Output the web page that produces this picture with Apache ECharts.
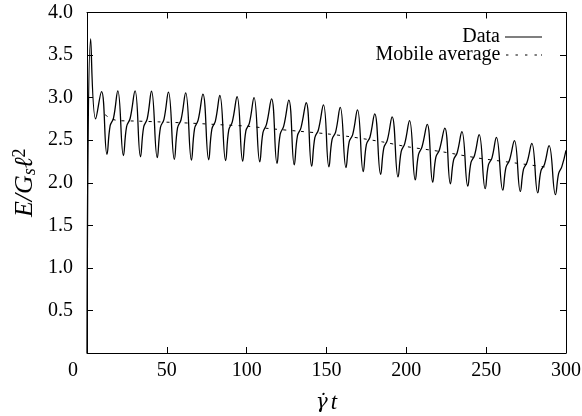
<!DOCTYPE html>
<html><head><meta charset="utf-8">
<script src="https://cdn.jsdelivr.net/npm/echarts@6/dist/echarts.min.js"></script>
<style>html,body{margin:0;padding:0;background:#fff}#c{width:582px;height:416px}</style>
</head><body><div id="c"></div>
<script>
// ---- data ----
const startPoint = [0, 0];
const endPoint = [300, 2.38];
const peakX = [2.3, 9.1, 19.3, 30.1, 40.4, 51.0, 61.8, 72.6, 83.2, 94.0, 104.6, 115.6, 126.4, 137.3, 148.1, 158.6, 169.4, 180.2, 191.1, 202.0, 213.1, 224.1, 234.8, 245.6, 256.4, 267.7, 278.6, 289.4];
const peakY = [3.69, 3.07, 3.08, 3.08, 3.075, 3.065, 3.055, 3.04, 3.025, 3.01, 3.0, 2.985, 2.97, 2.94, 2.915, 2.885, 2.855, 2.81, 2.775, 2.73, 2.685, 2.642, 2.6, 2.565, 2.532, 2.495, 2.462, 2.435];
const minX = [5.4, 12.5, 22.8, 33.5, 44.0, 54.7, 65.4, 76.2, 86.8, 97.5, 108.2, 119.0, 129.8, 140.7, 151.5, 162.2, 173.0, 183.9, 194.8, 205.6, 216.5, 227.6, 238.5, 249.4, 260.4, 271.4, 282.3, 293.4];
const minY = [2.75, 2.335, 2.32, 2.305, 2.295, 2.275, 2.267, 2.27, 2.26, 2.254, 2.246, 2.227, 2.21, 2.195, 2.187, 2.178, 2.13, 2.1, 2.068, 2.033, 2.007, 1.988, 1.96, 1.93, 1.913, 1.898, 1.881, 1.86];
const shoulderAX = [14.5, 24.8, 35.5, 46.0, 56.7, 67.4, 78.2, 88.8, 99.5, 110.2, 121.0, 131.8, 142.7, 153.5, 164.2, 175.0, 185.9, 196.8, 207.6, 218.5, 229.6, 240.5, 251.4, 262.4, 273.4, 284.3, 295.4];
const shoulderAY = [2.67, 2.66, 2.655, 2.65, 2.645, 2.64, 2.63, 2.62, 2.61, 2.59, 2.57, 2.55, 2.53, 2.51, 2.48, 2.45, 2.41, 2.37, 2.33, 2.30, 2.27, 2.24, 2.21, 2.18, 2.16, 2.14, 2.11];
const shoulderBX = [16.6, 27.0, 37.7, 48.2, 58.9, 69.6, 80.4, 91.0, 101.7, 112.4, 123.2, 134.0, 144.9, 155.7, 166.4, 177.2, 188.1, 199.0, 209.8, 220.7, 231.8, 242.7, 253.6, 264.6, 275.6, 286.5, 297.4];
const shoulderBY = [2.76, 2.755, 2.75, 2.745, 2.74, 2.735, 2.725, 2.715, 2.70, 2.685, 2.665, 2.645, 2.62, 2.595, 2.565, 2.535, 2.50, 2.46, 2.42, 2.385, 2.35, 2.32, 2.29, 2.265, 2.24, 2.215, 2.19];
const avgX = [11.3, 13.5, 16, 20, 30, 45, 65, 85, 100, 115, 133, 150, 165, 185, 200, 222, 245, 265, 289];
const avgY = [2.80, 2.77, 2.745, 2.73, 2.725, 2.715, 2.70, 2.68, 2.665, 2.635, 2.605, 2.575, 2.54, 2.48, 2.425, 2.365, 2.29, 2.24, 2.18];
const xTicks = [0, 50, 100, 150, 200, 250, 300];
const yTicks = [0, 0.5, 1.0, 1.5, 2.0, 2.5, 3.0, 3.5, 4.0];

// ---- build series tables ----
const pts = [startPoint];
const zip = (xs, ys) => xs.forEach((x, i) => pts.push([x, ys[i]]));
zip(peakX, peakY); zip(minX, minY); zip(shoulderAX, shoulderAY); zip(shoulderBX, shoulderBY);
pts.push(endPoint);
pts.sort((a, b) => a[0] - b[0]);
const avgPts = avgX.map((x, i) => [x, avgY[i]]);

const font = '"Liberation Serif", "Times New Roman", serif';
const fs = 20;
const axisCommon = {
  type: 'value',
  axisLine: { show: true, onZero: false, lineStyle: { color: '#000', width: 1 } },
  axisTick: { show: true, inside: true, length: 6, lineStyle: { color: '#000', width: 1 } },
  splitLine: { show: false },
  minorTick: { show: false }
};
const solidIcon = 'path://M0,0h37v1.2h-37z';
const dotIcon = 'path://M1,0h2.4v1.2h-2.4z M10.5,0h2.4v1.2h-2.4z M20,0h2.4v1.2h-2.4z M29.5,0h2.4v1.2h-2.4z M36,0h1v1.2h-1z';
const chart = echarts.init(document.getElementById('c'));
chart.setOption({
  animation: false,
  backgroundColor: '#fff',
  grid: { left: 87, right: 16, top: 12.5, bottom: 63, containLabel: false, outerBoundsMode: 'none' },
  xAxis: [
    Object.assign({}, axisCommon, {
      position: 'bottom', min: xTicks[0], max: xTicks[xTicks.length - 1], interval: xTicks[1] - xTicks[0],
      axisLabel: {
        color: '#000', fontFamily: font, fontSize: fs, margin: 8,
        formatter: v => v === 0 ? '{z|0}' : String(v),
        rich: { z: { fontFamily: font, fontSize: fs, color: '#000', padding: [0, 28, 0, 0] } }
      },
      name: '{g|\u03B3\u0307}{t|t}', nameLocation: 'middle', nameGap: 38, nameMoveOverlap: false,
      nameTextStyle: { color: '#000', rich: {
        g: { fontFamily: '"DejaVu Serif", serif', fontSize: 20, fontStyle: 'italic', color: '#000', padding: [0, 3, 0, 0] },
        t: { fontFamily: font, fontSize: 23, fontStyle: 'italic', color: '#000' }
      } }
    }),
    Object.assign({}, axisCommon, {
      position: 'top', min: xTicks[0], max: xTicks[xTicks.length - 1], interval: xTicks[1] - xTicks[0],
      axisLabel: { show: false }
    })
  ],
  yAxis: [
    Object.assign({}, axisCommon, {
      position: 'left', min: yTicks[0], max: yTicks[yTicks.length - 1], interval: yTicks[1] - yTicks[0],
      axisLabel: { color: '#000', fontFamily: font, fontSize: fs, margin: 14, showMinLabel: false,
        formatter: v => v.toFixed(1) },
      name: '{a|E/G}{s|s}{a|ℓ}{p|2}', nameLocation: 'middle', nameGap: 48, nameRotate: 90, nameMoveOverlap: false,
      nameTextStyle: {
        color: '#000',
        rich: {
          a: { fontFamily: font, fontSize: 26, fontStyle: 'italic', color: '#000', lineHeight: 28, verticalAlign: 'middle' },
          s: { fontFamily: font, fontSize: 18, fontStyle: 'italic', color: '#000', verticalAlign: 'bottom', lineHeight: 28 },
          p: { fontFamily: font, fontSize: 18, color: '#000', verticalAlign: 'top', lineHeight: 28 }
        }
      }
    }),
    Object.assign({}, axisCommon, {
      position: 'right', min: yTicks[0], max: yTicks[yTicks.length - 1], interval: yTicks[1] - yTicks[0],
      axisLabel: { show: false }
    })
  ],
  legend: [
    { data: [{ name: 'Data', icon: solidIcon }], right: 35, top: 22, align: 'right', itemWidth: 37, itemHeight: 1.2, itemGap: 0,
      textStyle: { fontFamily: font, fontSize: fs, color: '#000', lineHeight: 20 } },
    { data: [{ name: 'Mobile average', icon: dotIcon }], right: 35, top: 40, align: 'right', itemWidth: 37, itemHeight: 1.2, itemGap: 0,
      textStyle: { fontFamily: font, fontSize: fs, color: '#000', lineHeight: 20 } }
  ],
  series: [
    { name: 'Data', type: 'line', data: pts, smooth: 0.45, symbol: 'none', showSymbol: false,
      lineStyle: { color: '#000', width: 1.3 }, itemStyle: { color: '#000' }, z: 3 },
    { name: 'Mobile average', type: 'line', data: avgPts, smooth: 0.3, symbol: 'none', showSymbol: false,
      lineStyle: { color: '#000', width: 1, type: [3, 6] }, itemStyle: { color: '#000' }, z: 2 }
  ]
});
</script></body></html>
